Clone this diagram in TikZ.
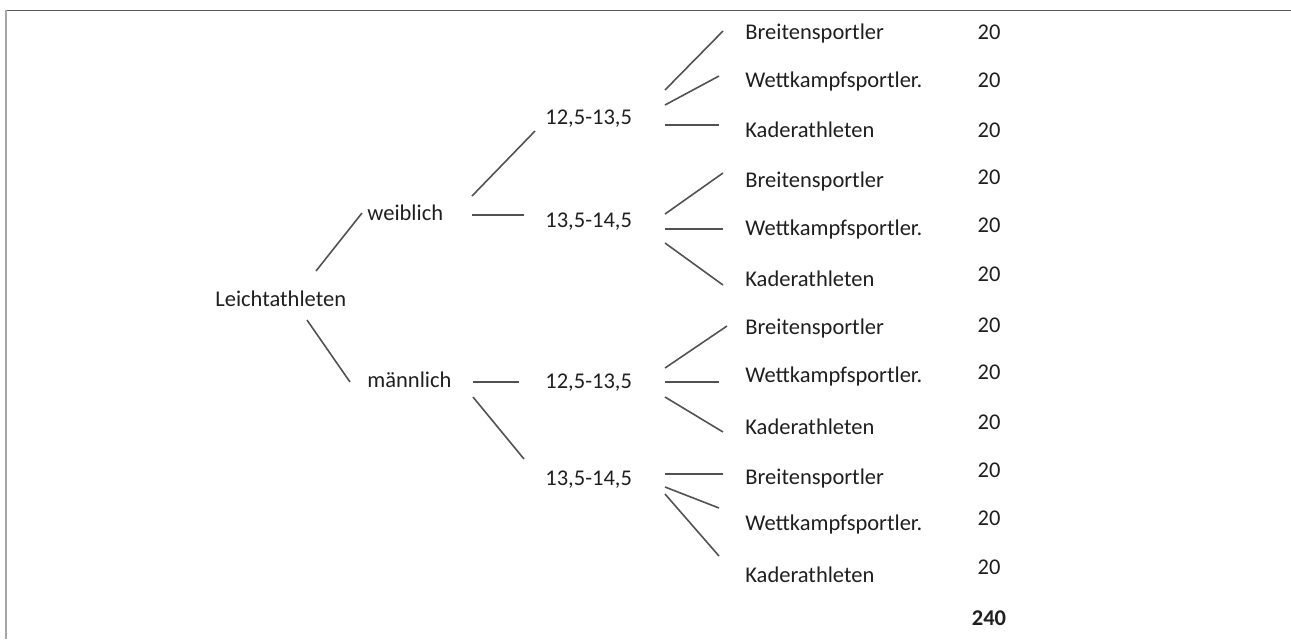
\documentclass[tikz,border=0pt]{standalone}
\usepackage{fontspec}
\setmainfont{Carlito}
\begin{document}
\begin{tikzpicture}[x=0.5pt,y=-0.5pt,
  txt/.style={inner sep=0pt,text=black!88,font=\fontsize{11.25}{13}\selectfont},
  lbl/.style={txt,anchor=base west},
  num/.style={txt,anchor=base},
  branch/.style={draw=black!68,line width=0.8pt}]
\useasboundingbox (0,0) rectangle (1291,639);
% page frame (top rule and left rule)
\draw[black!65,line width=0.6pt] (6,10.5) -- (1291,10.5);
\draw[black!35,line width=1pt] (6,10) -- (6,639);

% tree levels
\node[lbl] (root) at (215,306) {Leichtathleten};
\node[lbl] (w) at (367,220) {weiblich};
\node[lbl] (m) at (367,387) {männlich};
\node[lbl] (a1) at (545,124) {12,5-13,5};
\node[lbl] (b1) at (545,227) {13,5-14,5};
\node[lbl] (a2) at (545,388) {12,5-13,5};
\node[lbl] (b2) at (545,485) {13,5-14,5};

% leaves with counts
\foreach \i/\t/\y/\ny in {1/Breitensportler/39/39, 2/Wettkampfsportler./87/87,
    3/Kaderathleten/137/137, 4/Breitensportler/187/184, 5/Wettkampfsportler./235/232,
    6/Kaderathleten/286/281, 7/Breitensportler/334/332, 8/Wettkampfsportler./382/379,
    9/Kaderathleten/434/429, 10/Breitensportler/484/477, 11/Wettkampfsportler./530/525,
    12/Kaderathleten/582/574} {
  \node[lbl] (l\i) at (745,\y) {\t};
  \node[num] (n\i) at (989,\ny) {20};
}
\node[num,font=\fontsize{11.25}{13}\selectfont\bfseries] (total) at (989,625) {240};

% connectors between the levels
\foreach \n/\a/\b in {
    root-w/{316,271}/{362,213}, root-m/{307,320}/{350,382},
    w-a1/{472,196}/{535,131}, w-b1/{472,215}/{524,215},
    m-a2/{473,382}/{519,382}, m-b2/{473,397}/{524,459},
    a1-l1/{665,90}/{723,31}, a1-l2/{665,105}/{719,76}, a1-l3/{665,125}/{719,125},
    b1-l4/{665,214}/{723,173}, b1-l5/{665,229}/{723,229}, b1-l6/{665,243}/{723,285},
    a2-l7/{665,368}/{727,326}, a2-l8/{665,382}/{719,382}, a2-l9/{665,397}/{723,432},
    b2-l10/{665,474}/{723,474}, b2-l11/{665,487}/{719,508}, b2-l12/{665,494}/{719,556}} {
  \coordinate (\n-s) at (\a);
  \coordinate (\n-e) at (\b);
  \draw[branch] (\n-s) -- (\n-e);
}
\end{tikzpicture}
\end{document}
